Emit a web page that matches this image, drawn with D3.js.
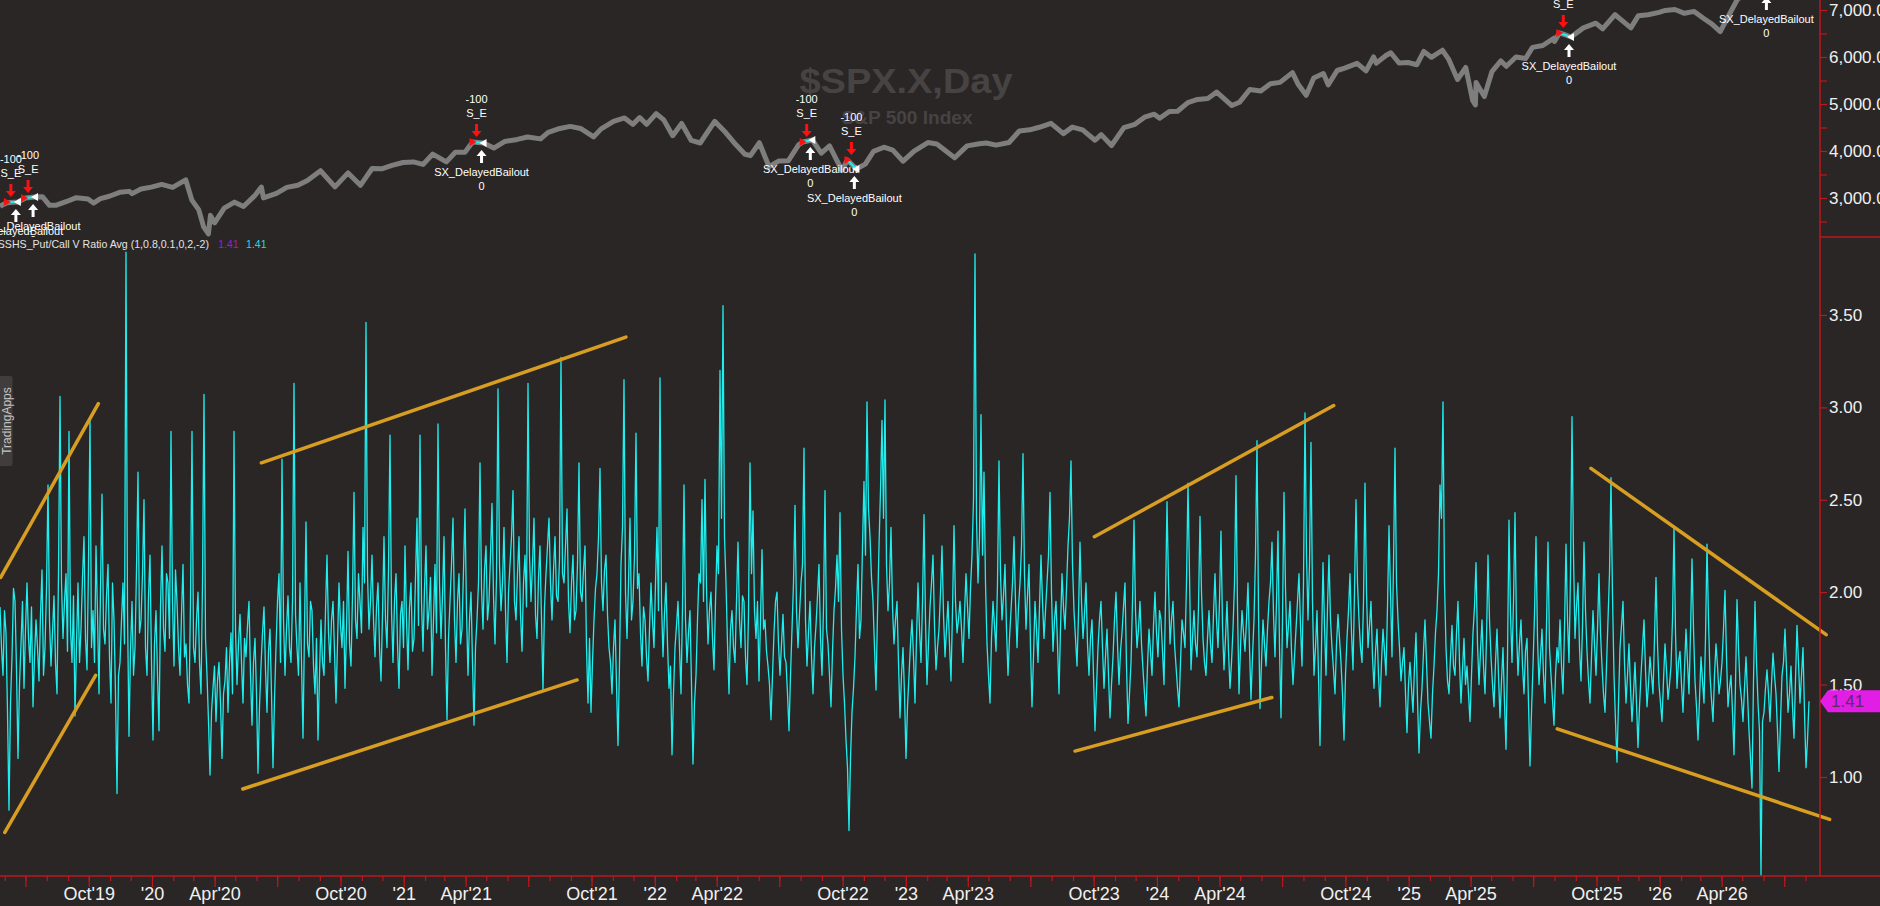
<!DOCTYPE html>
<html><head><meta charset="utf-8">
<script src="https://cdn.jsdelivr.net/npm/d3@7"></script>
<style>
html,body{margin:0;padding:0;background:#2a2626;overflow:hidden;}
svg{display:block;font-family:"Liberation Sans",Arial,sans-serif;}
</style></head><body>
<svg id="c" width="1880" height="906"></svg>
<script>
// ---------------- DATA ----------------
const chartTitle = "$SPX.X,Day";
const chartSubtitle = "S&P 500 Index";
const indicatorName = "SSHS_Put/Call V Ratio Avg (1,0.8,0.1,0,2,-2)";
const lastValueText = "1.41";
const lastValue = 1.41;

const spxDates = ["2019-05-25","2019-06-04","2019-06-20","2019-07-01","2019-07-15","2019-07-26","2019-08-05","2019-08-15","2019-08-30","2019-09-13","2019-09-30","2019-10-08","2019-10-18","2019-10-31","2019-11-15","2019-11-29","2019-12-03","2019-12-16","2019-12-31",
"2020-01-15","2020-01-31","2020-02-19","2020-02-28","2020-03-09","2020-03-16","2020-03-23","2020-03-26","2020-04-01","2020-04-15","2020-04-30","2020-05-13","2020-05-29","2020-06-08","2020-06-11","2020-06-30","2020-07-15","2020-07-31","2020-08-14","2020-09-02","2020-09-23","2020-10-12","2020-10-30","2020-11-16","2020-11-30","2020-12-15","2020-12-31",
"2021-01-15","2021-01-29","2021-02-12","2021-03-04","2021-03-17","2021-03-31","2021-04-11","2021-04-27","2021-05-12","2021-05-28","2021-06-15","2021-06-30","2021-07-19","2021-07-30","2021-08-16","2021-08-31","2021-09-15","2021-10-04","2021-10-15","2021-11-02","2021-11-18","2021-11-30","2021-12-10","2021-12-20",
"2022-01-03","2022-01-14","2022-01-27","2022-02-09","2022-02-23","2022-03-08","2022-03-29","2022-04-14","2022-04-29","2022-05-12","2022-05-20","2022-06-02","2022-06-16","2022-06-30","2022-07-14","2022-07-29","2022-08-04","2022-08-18","2022-08-31","2022-09-12","2022-09-30","2022-10-08","2022-10-21","2022-11-03","2022-11-15","2022-11-30","2022-12-13","2022-12-28",
"2023-01-13","2023-02-02","2023-02-15","2023-03-02","2023-03-13","2023-03-31","2023-04-18","2023-04-28","2023-05-12","2023-05-31","2023-06-15","2023-06-30","2023-07-14","2023-07-31","2023-08-18","2023-08-31","2023-09-15","2023-10-03","2023-10-12","2023-10-27","2023-11-14","2023-11-30","2023-12-14","2023-12-28",
"2024-01-05","2024-01-19","2024-01-31","2024-02-15","2024-02-29","2024-03-15","2024-03-28","2024-04-19","2024-04-30","2024-05-15","2024-05-31","2024-06-14","2024-06-28","2024-07-16","2024-07-24","2024-08-05","2024-08-16","2024-08-30","2024-09-06","2024-09-19","2024-09-30","2024-10-18","2024-10-31","2024-11-11","2024-11-15","2024-11-29","2024-12-06","2024-12-18","2024-12-31",
"2025-01-13","2025-01-23","2025-02-03","2025-02-19","2025-02-28","2025-03-13","2025-03-25","2025-04-04","2025-04-08","2025-04-09","2025-04-21","2025-05-02","2025-05-15","2025-05-23","2025-06-06","2025-06-20","2025-06-30","2025-07-15","2025-07-31","2025-08-01","2025-08-08","2025-08-15","2025-08-25","2025-09-12","2025-09-30","2025-10-10","2025-10-28","2025-11-07","2025-11-20","2025-12-01","2025-12-15","2025-12-31",
"2026-01-09","2026-01-23","2026-02-06","2026-02-20","2026-03-06","2026-03-18","2026-03-30","2026-04-10","2026-04-24","2026-05-08","2026-05-29","2026-06-19","2026-07-10","2026-08-06"];
const spxValues = [2826,2900,2915,3000,3020,3025,2844,2847,2926,3007,2977,2893,2986,3037,3120,3141,3093,3191,3231,
3289,3226,3386,2954,2746,2386,2237,2630,2470,2783,2912,2820,3044,3232,3002,3100,3226,3271,3373,3580,3237,3534,3270,3627,3622,3694,3756,
3768,3714,3934,3768,3974,3973,4191,4170,4063,4204,4246,4297,4258,4395,4479,4523,4480,4300,4471,4631,4704,4567,4712,4568,
4796,4662,4326,4587,4225,4170,4631,4392,4132,3930,3901,4176,3667,3785,3790,4130,4191,4234,3955,4110,3586,3809,3617,3720,3992,4080,4019,3783,
3999,4179,4148,3981,3855,4109,4154,4169,4124,4180,4426,4450,4505,4589,4370,4508,4450,4229,4349,4117,4496,4568,4719,4783,
4697,4840,4846,5030,5096,5117,5254,4967,5036,5308,5278,5431,5460,5667,5427,5186,5554,5648,5408,5713,5762,5864,5705,6001,5870,6032,6090,5872,5882,
5836,6118,5994,6144,5955,5521,5777,5074,4982,5457,5158,5687,5916,5803,6000,5968,6205,6244,6400,6330,6511,6480,6426,6620,6720,6600,6900,6780,6620,6880,6900,6950,
6990,7010,6930,6970,6820,6700,6540,6850,7230,7350,7420,7480,7520,7580];

// Put/Call ratio: evenly spaced samples from first to last date
const ratioStart = "2019-05-25";
const ratioEnd = "2026-08-06";
const ratioValues = [
1.92,1.70,1.55,1.90,1.78,1.35,0.82,1.40,1.65,2.02,1.95,1.58,1.10,1.50,1.72,1.95,1.48,1.80,2.05,1.75,1.62,1.92,1.38,1.65,1.85,1.70,1.52,1.88,2.12,1.55,1.70,2.02,2.58,1.85,1.60,1.78,1.98,1.62,1.45,2.10,
3.06,2.05,1.75,1.95,2.10,1.68,2.87,1.80,1.62,1.98,1.33,1.72,2.05,1.62,1.80,2.08,2.30,1.75,1.58,2.15,2.93,1.70,1.90,1.62,2.25,1.88,1.45,2.02,2.53,1.80,1.72,1.98,2.15,1.65,1.40,2.05,1.85,1.45,0.91,1.55,
1.62,1.85,2.05,1.72,3.84,1.90,1.22,1.68,1.95,1.55,1.70,2.12,2.65,1.78,1.85,2.10,2.50,1.70,1.55,1.98,2.20,1.62,1.20,1.72,1.90,1.55,1.25,1.92,2.25,1.80,1.68,2.10,2.05,1.75,2.87,1.95,1.60,2.12,1.95,1.70,
1.55,1.88,2.15,1.65,1.72,1.50,1.40,1.95,2.87,1.70,1.62,1.85,2.00,1.62,1.45,2.05,3.07,1.75,1.55,1.30,1.01,1.35,1.48,1.60,1.30,1.52,1.62,1.40,1.10,1.45,1.52,1.70,1.35,1.62,1.78,1.45,2.87,1.80,1.50,1.72,
1.88,1.62,1.40,1.75,1.65,1.82,1.95,1.55,1.28,1.62,1.75,1.45,1.02,1.38,1.60,1.78,1.92,1.58,1.35,1.68,1.80,1.45,1.05,1.42,1.70,1.95,2.10,1.62,2.72,1.85,1.55,1.80,1.98,1.70,1.62,1.95,3.13,1.88,1.70,1.55,
2.05,1.62,1.21,1.80,2.38,1.72,1.65,1.95,1.90,1.60,1.45,1.75,1.20,1.55,1.85,1.62,1.55,1.90,2.20,1.78,1.62,1.85,1.95,1.68,1.40,1.72,2.05,1.82,1.70,1.95,1.48,1.80,2.22,1.72,1.60,1.98,2.54,1.85,1.75,2.10,
1.95,1.78,2.35,2.05,3.46,2.10,1.80,1.95,2.20,1.85,1.65,1.92,2.05,1.70,1.52,1.88,2.30,1.85,1.70,2.12,2.85,1.90,1.62,1.95,2.10,1.72,1.48,1.88,1.95,1.70,2.25,1.85,1.58,1.92,2.05,1.68,1.75,2.08,2.40,1.82,
2.85,1.95,1.68,2.02,2.25,1.80,1.90,2.08,1.55,1.85,2.15,1.78,2.91,2.05,1.75,1.98,2.30,1.70,1.31,1.75,1.95,2.15,2.40,1.85,1.62,1.95,2.10,1.72,1.80,2.12,2.45,1.90,1.55,1.85,2.00,1.62,1.28,1.70,1.85,2.05,
2.70,2.02,1.80,2.12,2.25,1.85,1.95,2.20,2.48,1.98,1.72,2.08,3.10,2.15,1.90,2.05,2.35,1.90,1.62,2.00,2.15,2.30,2.55,1.95,1.85,2.10,2.30,1.88,1.68,2.05,2.20,1.92,3.13,2.20,1.95,2.15,2.40,1.88,1.75,2.08,
2.25,1.85,1.47,1.92,2.10,2.25,2.40,2.05,1.85,2.12,2.30,1.98,1.95,2.18,3.27,2.10,2.05,2.25,2.45,1.95,1.78,2.05,2.20,1.85,1.90,2.15,2.70,2.00,1.95,2.12,2.25,1.70,1.40,1.75,1.35,1.62,1.85,2.02,2.10,2.30,
2.67,2.05,1.90,2.12,2.20,1.88,1.70,1.62,1.45,1.70,1.85,1.50,1.17,1.62,2.15,2.35,3.15,2.00,1.75,2.05,2.40,1.85,1.95,2.20,2.86,2.02,2.10,1.78,1.60,1.92,1.85,1.65,1.52,1.80,2.05,1.85,1.70,2.05,2.35,1.90,
3.16,1.95,1.65,1.88,2.05,1.72,1.48,1.60,1.12,1.45,1.70,1.82,1.95,1.70,1.45,1.92,2.58,1.85,1.62,1.78,1.90,1.50,1.07,1.40,1.55,1.85,2.10,2.05,2.50,1.95,2.61,2.02,1.72,1.90,2.00,1.75,1.58,1.95,2.25,2.10,
3.20,2.40,3.55,2.30,2.05,1.72,1.45,1.80,1.90,1.70,1.62,1.95,2.27,1.85,1.70,1.98,1.95,1.65,1.50,1.88,2.70,2.10,2.44,1.90,1.75,1.95,1.52,1.85,2.23,1.80,1.85,1.68,1.60,1.50,1.31,1.55,1.78,1.95,2.00,1.72,
1.55,1.72,1.88,1.65,1.62,1.45,1.25,1.55,1.80,2.05,2.47,1.90,1.70,1.88,2.05,2.15,2.78,1.85,1.60,1.78,1.95,1.65,1.45,1.70,1.82,1.98,2.15,1.75,1.55,1.92,2.55,1.80,1.72,1.55,1.38,1.68,1.90,2.02,2.20,1.95,
2.43,1.80,1.55,1.40,1.20,1.05,0.71,1.10,1.35,1.48,1.65,1.92,2.15,1.75,1.85,2.25,2.60,2.20,3.03,2.45,2.30,2.08,1.95,1.70,1.47,1.88,2.25,2.55,2.93,2.40,3.04,2.15,1.90,2.05,2.35,1.92,1.72,1.85,1.95,1.62,
1.32,1.55,1.70,1.45,1.10,1.38,1.55,1.72,1.85,1.65,1.40,1.75,2.05,1.80,1.62,1.95,2.42,1.85,1.50,1.72,1.92,2.05,2.20,1.82,1.58,1.70,1.80,2.00,2.25,1.88,1.65,1.80,1.95,1.72,1.52,1.90,2.36,1.95,1.78,1.85,
1.95,1.80,1.62,1.88,2.10,1.92,1.75,2.02,2.20,2.50,3.83,2.40,2.05,2.30,2.96,2.20,2.65,2.05,1.72,1.55,1.40,1.75,1.95,1.82,1.68,2.05,2.71,2.10,1.85,1.98,2.15,1.80,1.55,1.75,1.90,2.05,2.30,1.95,1.70,1.92,
2.05,2.25,2.75,2.10,1.80,1.98,2.15,1.70,1.38,1.65,1.95,1.80,1.62,1.92,2.20,1.95,1.75,1.90,2.05,2.20,2.54,2.00,1.68,1.85,1.95,1.72,1.45,1.80,2.10,1.92,1.80,2.02,2.25,2.40,2.71,2.15,1.90,1.75,1.60,1.88,
2.27,1.95,1.75,1.88,2.05,1.72,1.55,1.75,1.85,1.55,1.25,1.48,1.70,1.85,1.95,1.70,1.48,1.65,1.80,1.55,1.32,1.50,1.65,1.85,2.00,1.72,1.50,1.68,1.78,1.92,2.05,1.60,1.29,1.45,1.62,1.95,2.39,1.90,1.70,1.80,
1.95,1.72,1.58,1.45,1.33,1.60,1.80,1.68,1.55,1.82,2.00,1.78,1.65,1.90,1.85,1.68,1.50,1.95,2.49,2.05,1.72,1.85,1.95,1.72,1.60,1.48,1.38,1.62,1.85,1.78,1.70,2.05,2.59,2.10,1.58,1.75,1.90,1.72,1.65,1.92,
2.41,2.00,1.75,1.62,1.55,1.75,1.90,1.72,1.62,1.88,2.10,1.85,1.70,1.95,2.33,1.82,1.58,1.75,1.95,1.68,1.48,1.62,1.80,2.05,2.63,1.92,1.45,1.70,1.90,1.78,1.68,1.85,2.05,1.70,1.42,1.65,1.85,2.20,2.82,1.90,
1.37,1.62,1.85,1.72,1.60,1.80,1.95,2.05,2.27,1.88,1.65,1.95,2.33,1.70,1.32,1.85,2.54,2.02,1.70,1.82,1.95,1.68,1.50,1.65,1.80,1.95,2.10,1.82,1.60,2.05,2.97,2.20,1.85,2.15,2.81,1.95,1.55,1.70,1.90,1.55,
1.17,1.70,2.16,1.82,1.55,1.92,2.20,1.85,1.70,1.58,1.45,1.72,1.88,1.75,1.62,1.45,1.20,1.55,1.75,1.90,2.10,1.78,1.58,2.00,2.50,2.05,1.85,1.70,1.62,1.95,2.59,2.00,1.70,1.82,1.95,1.65,1.48,1.68,1.80,1.55,
1.38,1.62,1.80,1.68,1.55,1.92,2.36,2.00,1.65,2.15,2.78,2.05,1.85,1.70,1.52,1.62,1.70,1.45,1.24,1.50,1.62,1.48,1.35,1.60,1.78,1.42,1.13,1.35,1.48,1.68,1.85,1.62,1.40,1.30,1.21,1.45,1.60,1.78,1.90,2.10,
2.58,2.40,3.03,2.05,1.70,1.52,1.45,1.65,1.82,1.60,1.55,1.78,1.95,1.62,1.40,1.58,1.75,1.50,1.60,1.45,1.30,1.55,1.78,1.92,2.16,1.72,1.50,1.68,1.85,1.60,1.45,1.75,2.20,1.85,1.65,1.50,1.38,1.62,1.80,1.55,
1.32,1.52,1.70,1.40,1.15,1.65,2.39,1.88,1.62,1.95,2.43,1.80,1.55,1.72,1.85,1.60,1.45,1.68,1.75,1.40,1.06,1.35,1.60,1.88,2.30,1.75,1.50,1.65,1.80,1.55,1.40,1.82,2.27,1.70,1.55,1.42,1.28,1.55,1.70,1.62,
1.85,1.60,1.45,1.80,2.26,1.85,1.62,2.10,2.95,2.20,1.75,1.92,2.05,1.70,1.52,1.82,2.27,1.90,1.68,1.52,1.40,1.65,1.90,1.72,1.55,1.80,2.10,1.78,1.60,1.45,1.35,1.60,1.85,2.10,2.62,1.98,1.55,1.30,1.08,1.40,
1.70,1.82,1.95,1.62,1.40,1.55,1.72,1.48,1.30,1.45,1.62,1.40,1.16,1.38,1.55,1.70,1.85,1.58,1.38,1.50,1.65,1.55,1.45,1.75,2.08,1.72,1.50,1.40,1.30,1.52,1.72,1.58,1.42,1.50,1.60,1.85,2.35,1.78,1.48,1.62,
1.68,1.50,1.35,1.58,1.80,1.62,1.45,1.78,2.18,1.80,1.52,1.38,1.20,1.42,1.65,1.52,1.40,1.75,2.26,1.85,1.55,1.42,1.30,1.55,1.72,1.60,1.45,1.52,1.62,1.80,2.01,1.65,1.38,1.48,1.55,1.35,1.12,1.50,1.96,1.70,
1.50,1.42,1.30,1.48,1.65,1.45,1.25,1.10,0.94,1.52,1.95,1.62,1.40,1.25,0.47,1.30,1.35,1.48,1.58,1.45,1.30,1.50,1.67,1.55,1.45,1.25,1.03,1.30,1.55,1.62,1.80,1.58,1.35,1.45,1.60,1.38,1.21,1.52,1.82,1.62,1.40,1.55,1.70,1.35,1.05,1.20,1.41];

// Trendlines drawn on the indicator pane (date, value) pairs
const trendStartDates = ["2019-05-26","2019-06-01","2020-06-08","2020-05-12","2023-10-02","2023-09-04","2025-09-23","2025-08-05"];
const trendStartValues = [2.08,0.70,2.70,0.935,2.30,1.14,2.67,1.26];
const trendEndDates = ["2019-10-15","2019-10-11","2021-11-20","2021-09-10","2024-09-14","2024-06-16","2026-08-31","2026-09-05"];
const trendEndValues = [3.02,1.55,3.38,1.525,3.01,1.43,1.77,0.77];

// Strategy trades on the price pane
const entryDates = ["2019-06-04","2019-06-29","2021-04-11","2022-08-04","2022-10-08","2025-08-08","2026-05-23"];
const entryPrices = [2915,3000,4191,4191,3809,6511,7470];
const exitDates = ["2019-06-20","2019-07-15","2021-04-27","2022-08-18","2022-10-21","2025-08-25","2026-06-08"];
const exitPrices = [2915,3021,4170,4234,3617,6426,7425];
const entryQty = "-100", entrySignal = "S_E", exitSignal = "SX_DelayedBailout", exitQty = "0";

const priceTicks = [2500,3000,3500,4000,4500,5000,5500,6000,6500,7000];
const ratioTicks = [1.0,1.5,2.0,2.5,3.0,3.5];

// ---------------- LAYOUT ----------------
const W = 1880, H = 906, axisX = 1820, split = 237, bottom = 876;
const C = {bg:"#2a2626", axis:"#c0161c", text:"#f0f0f0", spx:"#7e7e7e", ratio:"#1eeeee",
           trend:"#d89e22", mark:"#ff1010", tag:"#e21de6", water:"#474343"};
const parse = d3.timeParse("%Y-%m-%d");

const x = d3.scaleTime().domain([parse("2019-05-25"), parse("2026-08-22")]).range([0, axisX]);
const yP = d3.scaleLinear().domain([2170, 7213]).range([split, 0]);
const yR = d3.scaleLinear().domain([0.464, 3.922]).range([bottom, split]);

const svg = d3.select("#c");
svg.append("rect").attr("width", W).attr("height", H).attr("fill", C.bg);
const defs = svg.append("defs");
defs.append("clipPath").attr("id","clipTop").append("rect").attr("x",0).attr("y",0).attr("width",axisX).attr("height",split);
defs.append("clipPath").attr("id","clipBot").append("rect").attr("x",0).attr("y",split).attr("width",axisX).attr("height",bottom-split);

// watermark
svg.append("text").attr("x", 906).attr("y", 93).attr("text-anchor","middle")
  .attr("font-size", 35).attr("font-weight","bold").attr("fill", C.water)
  .attr("textLength", 213).attr("lengthAdjust","spacingAndGlyphs").text(chartTitle);
svg.append("text").attr("x", 907).attr("y", 124).attr("text-anchor","middle")
  .attr("font-size", 18).attr("font-weight","bold").attr("fill", C.water)
  .attr("textLength", 131).attr("lengthAdjust","spacingAndGlyphs").text(chartSubtitle);

// ---------- price pane ----------
const topG = svg.append("g").attr("clip-path","url(#clipTop)");
const spx = spxDates.map((d,i)=>({date:parse(d), v:spxValues[i]}));
topG.append("path").datum(spx)
  .attr("d", d3.line().x(d=>x(d.date)).y(d=>yP(d.v)))
  .attr("fill","none").attr("stroke",C.spx).attr("stroke-width",5).attr("stroke-linejoin","round");

const trades = entryDates.map((d,i)=>({
  xe:x(parse(d)), ye:yP(entryPrices[i]), xx:x(parse(exitDates[i])), yx:yP(exitPrices[i])}));
const tg = topG.append("g").attr("font-size", 11).attr("fill","#ffffff").attr("text-anchor","middle");
trades.forEach(t=>{
  tg.append("line").attr("x1",t.xe).attr("y1",t.ye).attr("x2",t.xx).attr("y2",t.yx)
    .attr("stroke",C.ratio).attr("stroke-width",2);
  tg.append("path").attr("d",`M${t.xe-3},${t.ye-4}L${t.xe+4},${t.ye}L${t.xe-3},${t.ye+4}Z`).attr("fill",C.mark);
  tg.append("path").attr("d",`M${t.xx+3},${t.yx-4}L${t.xx-4},${t.yx}L${t.xx+3},${t.yx+4}Z`).attr("fill","#ffffff");
  const ax = t.xe+4, at = t.ye-5;
  tg.append("path").attr("d",`M${ax-1.5},${at-13}h3v7h3.5l-5,6l-5,-6h3.5z`).attr("fill",C.mark);
  tg.append("text").attr("x",ax).attr("y",t.ye-25).text(entrySignal);
  tg.append("text").attr("x",ax).attr("y",t.ye-39).text(entryQty);
  const bx = t.xx-2, bt = t.yx+7;
  tg.append("path").attr("d",`M${bx},${bt}l5,6h-3.5v7h-3v-7h-3.5z`).attr("fill","#ffffff");
  tg.append("text").attr("x",bx).attr("y",t.yx+33).text(exitSignal);
  tg.append("text").attr("x",bx).attr("y",t.yx+47).text(exitQty);
});

// ---------- indicator pane ----------
const botG = svg.append("g").attr("clip-path","url(#clipBot)");
const t0 = parse(ratioStart).getTime(), t1 = parse(ratioEnd).getTime();
const ratio = ratioValues.map((v,i)=>({date:new Date(t0 + (t1-t0)*i/(ratioValues.length-1)), v}));
botG.append("path").datum(ratio)
  .attr("d", d3.line().x(d=>x(d.date)).y(d=>yR(d.v)))
  .attr("fill","none").attr("stroke",C.ratio).attr("stroke-width",1.3).attr("stroke-linejoin","round");

// trendlines
const tl = svg.append("g");
trendStartDates.forEach((d,i)=>{
  tl.append("line")
    .attr("x1", x(parse(d))).attr("y1", yR(trendStartValues[i]))
    .attr("x2", x(parse(trendEndDates[i]))).attr("y2", yR(trendEndValues[i]))
    .attr("stroke", C.trend).attr("stroke-width", 3.5).attr("stroke-linecap","round");
});

// indicator caption
const cap = svg.append("g").attr("font-size", 10.6);
cap.append("text").attr("x", 209).attr("y", 248).attr("text-anchor","end").attr("fill","#e4e4e4").text(indicatorName);
cap.append("text").attr("x", 218).attr("y", 248).attr("fill","#a21db8").text(lastValueText);
cap.append("text").attr("x", 246).attr("y", 248).attr("fill","#22d8dc").text(lastValueText);

// TradingApps tab
svg.append("rect").attr("x",-4).attr("y",376).attr("width",16.5).attr("height",90).attr("rx",2).attr("fill","#413d3d");
svg.append("text").attr("transform","translate(10.5,421) rotate(-90)").attr("text-anchor","middle")
  .attr("font-size",12).attr("fill","#c4c4c4").text("TradingApps");

// ---------- axes ----------
const axG = svg.append("g");
axG.append("line").attr("x1",axisX).attr("x2",axisX).attr("y1",0).attr("y2",bottom).attr("stroke",C.axis).attr("stroke-width",1.5);
axG.append("line").attr("x1",axisX).attr("x2",W).attr("y1",split).attr("y2",split).attr("stroke",C.axis).attr("stroke-width",1.5);
axG.append("line").attr("x1",0).attr("x2",W).attr("y1",bottom).attr("y2",bottom).attr("stroke",C.axis).attr("stroke-width",1.5);

function styleAxis(g){
  g.select(".domain").remove();
  g.selectAll(".tick line").attr("stroke",C.axis).attr("stroke-width",1.2);
  g.selectAll(".tick text").attr("fill",C.text).attr("font-family",'"Liberation Sans",Arial,sans-serif');
}
const fmtP = d3.format(",.2f");
svg.append("g").attr("transform",`translate(${axisX},0)`)
  .call(d3.axisRight(yP).tickValues(priceTicks).tickSize(7).tickPadding(2)
        .tickFormat(v => v % 1000 === 0 ? fmtP(v) : ""))
  .attr("font-size",17).call(styleAxis);
svg.append("g").attr("transform",`translate(${axisX},0)`)
  .call(d3.axisRight(yR).tickValues(ratioTicks).tickSize(7).tickPadding(2).tickFormat(d3.format(".2f")))
  .attr("font-size",17).call(styleAxis);

// time axis
const months = d3.timeMonth.range(x.domain()[0], x.domain()[1]);
const quarters = months.filter(d => d.getMonth() % 3 === 0);
const fmtY = d3.timeFormat("%y");
const qLabel = d => {
  const m = d.getMonth();
  if (m === 0) return "'" + fmtY(d);
  if (m === 3) return "Apr'" + fmtY(d);
  if (m === 9) return "Oct'" + fmtY(d);
  return "";
};
svg.append("g").attr("transform",`translate(0,${bottom})`)
  .call(d3.axisBottom(x).tickValues(months).tickSize(5).tickFormat(""))
  .call(styleAxis);
svg.append("g").attr("transform",`translate(0,${bottom})`)
  .call(d3.axisBottom(x).tickValues(quarters).tickSize(11).tickPadding(0).tickFormat(qLabel))
  .attr("font-size",18).call(styleAxis);

// last value tag
const yv = yR(lastValue);
svg.append("path").attr("d",`M${axisX},${yv}L${axisX+8},${yv-11}H${W}V${yv+11}H${axisX+8}Z`).attr("fill",C.tag);
svg.append("text").attr("x",axisX+11).attr("y",yv+6).attr("font-size",17).attr("fill","#5e2a66").text(lastValueText);
</script>
</body></html>
